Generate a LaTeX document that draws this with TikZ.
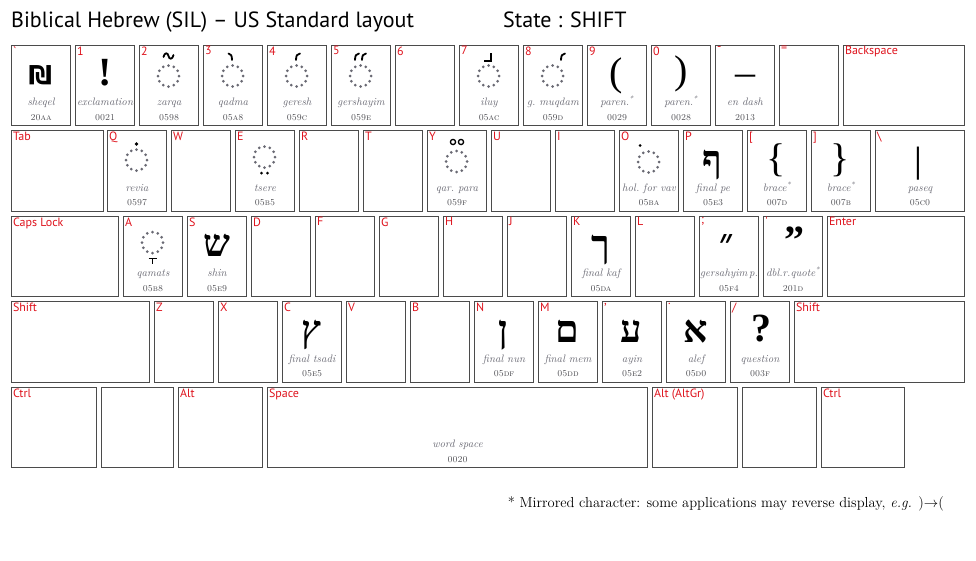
\documentclass[tikz,border=0pt]{standalone}
\usepackage{fontspec}
\usepackage{xcolor}
\usepackage{tikz}
\newfontfamily\keyfont{PT Sans}
\newfontfamily\hebfont[Script=Hebrew]{Liberation Serif}
\newfontfamily\glyphfont{Liberation Serif}
\newfontfamily\shqfont{DejaVu Sans}
\definecolor{keyred}{RGB}{222,18,28}
\definecolor{namegray}{RGB}{105,105,115}
\definecolor{codegray}{RGB}{70,70,75}
\definecolor{ringgray}{RGB}{105,105,115}
\definecolor{framegray}{RGB}{75,75,75}

\begin{document}
\begin{tikzpicture}[x=1pt, y=-1pt,
    key/.style={draw=framegray, line width=1.1pt, anchor=north west, minimum width=59pt, minimum height=80.5pt, inner sep=0pt},
    keylabel/.style={anchor=north west, inner sep=1.8pt, text=keyred, font=\keyfont\fontsize{12}{12}\selectfont},
    glyphname/.style={anchor=base, inner sep=0pt, text=namegray, font=\fontsize{10.8}{10.8}\selectfont\itshape\frenchspacing},
    glyphcode/.style={anchor=base, inner sep=0pt, text=codegray, font=\fontsize{9}{9}\selectfont\scshape},
    glyph/.style={inner sep=0pt, font=\glyphfont\fontsize{40}{40}\selectfont},
    boldglyph/.style={inner sep=0pt, font=\glyphfont\bfseries\fontsize{40}{40}\selectfont},
    hebglyph/.style={inner sep=0pt, anchor=north, font=\hebfont\bfseries\fontsize{38}{38}\selectfont},
    markstroke/.style={line width=1.8pt, line cap=round},
    dotring/.pic={\foreach \a in {0,30,...,330} \fill[ringgray] (\a:10.5pt) circle (1.5pt);}
]
    \useasboundingbox (0,0) rectangle (976,560);

    % Title
    \node[anchor=base west, inner sep=0pt, font=\keyfont\fontsize{22}{22}\selectfont] (title) at (11,27) {Biblical Hebrew (SIL) – US Standard layout};
    \node[anchor=base west, inner sep=0pt, font=\keyfont\fontsize{22}{22}\selectfont] (state) at (503,27) {State : SHIFT};

    % Number row
    \foreach \x/\l/\n in {11/`/grave, 75/1/1, 139/2/2, 203/3/3, 267/4/4, 331/5/5, 395/6/6, 459/7/7, 523/8/8, 587/9/9, 651/0/0, 715/-/minus, 779/=/equal} {
        \node[key] (k\n) at (\x,44.5) {};
        \node[keylabel] (l\n) at (k\n.north west) {\l};
    }
    \node[key, minimum width=121pt] (kbksp) at (843,44.5) {};
    \node[keylabel] (lbksp) at (kbksp.north west) {Backspace};

    % Top letter row
    \node[key, minimum width=92pt] (ktab) at (11,130) {};
    \node[keylabel] (ltab) at (ktab.north west) {Tab};
    \foreach \x/\l/\n in {107/Q/Q, 171/W/W, 235/E/E, 299/R/R, 363/T/T, 427/Y/Y, 491/U/U, 555/I/I, 619/O/O, 683/P/P, 747/{[}/lbrack, 811/{]}/rbrack} {
        \node[key] (k\n) at (\x,130) {};
        \node[keylabel] (l\n) at (k\n.north west) {\l};
    }
    \node[key, minimum width=89pt] (kbslash) at (875,130) {};
    \node[keylabel] (lbslash) at (kbslash.north west) {\textbackslash};

    % Home row
    \node[key, minimum width=107pt] (kcaps) at (11,215.5) {};
    \node[keylabel] (lcaps) at (kcaps.north west) {Caps Lock};
    \foreach \x/\l/\n in {123/A/A, 187/S/S, 251/D/D, 315/F/F, 379/G/G, 443/H/H, 507/J/J, 571/K/K, 635/L/L, 699/;/semi, 763/'/quote} {
        \node[key] (k\n) at (\x,215.5) {};
        \node[keylabel] (l\n) at (k\n.north west) {\l};
    }
    \node[key, minimum width=137pt] (kenter) at (827,215.5) {};
    \node[keylabel] (lenter) at (kenter.north west) {Enter};

    % Bottom letter row
    \node[key, minimum width=138pt] (klshift) at (11,301) {};
    \node[keylabel] (llshift) at (klshift.north west) {Shift};
    \foreach \x/\l/\n in {154/Z/Z, 218/X/X, 282/C/C, 346/V/V, 410/B/B, 474/N/N, 538/M/M, 602/{,}/comma, 666/./period, 730/{/}/slash} {
        \node[key] (k\n) at (\x,301) {};
        \node[keylabel] (l\n) at (k\n.north west) {\l};
    }
    \node[key, minimum width=170pt] (krshift) at (794,301) {};
    \node[keylabel] (lrshift) at (krshift.north west) {Shift};

    % Space row
    \node[key, minimum width=85pt] (klctrl) at (11,386.5) {};
    \node[keylabel] (llctrl) at (klctrl.north west) {Ctrl};
    \node[key, minimum width=72pt] (kblankl) at (101,386.5) {};
    \node[key, minimum width=84pt] (klalt) at (178,386.5) {};
    \node[keylabel] (llalt) at (klalt.north west) {Alt};
    \node[key, minimum width=380pt] (kspace) at (267,386.5) {};
    \node[keylabel] (lspace) at (kspace.north west) {Space};
    \node[key, minimum width=85pt] (kralt) at (652,386.5) {};
    \node[keylabel] (lralt) at (kralt.north west) {Alt (AltGr)};
    \node[key, minimum width=74pt] (kblankr) at (742,386.5) {};
    \node[key, minimum width=83pt] (krctrl) at (821,386.5) {};
    \node[keylabel] (lrctrl) at (krctrl.north west) {Ctrl};

    % Character names and code points
    \foreach \k/\nm/\cd in {grave/sheqel/20aa, 1/exclamation/0021, 2/zarqa/0598, 3/qadma/05a8, 4/geresh/059c, 5/gershayim/059e, 7/iluy/05ac, 8/g. muqdam/059d, 9/paren.\textsuperscript{*}/0029, 0/paren.\textsuperscript{*}/0028, minus/en dash/2013,
        Q/revia/0597, E/tsere/05b5, Y/qar. para/059f, O/hol. for vav/05ba, P/final pe/05e3, lbrack/brace\textsuperscript{*}/007d, rbrack/brace\textsuperscript{*}/007b, bslash/paseq/05c0,
        A/qamats/05b8, S/shin/05e9, K/final kaf/05da, semi/gersahyim\,p./05f4, quote/dbl.r.quote\textsuperscript{*}/201d,
        C/final tsadi/05e5, N/final nun/05df, M/final mem/05dd, comma/ayin/05e2, period/alef/05d0, slash/question/003f, space/word space/0020} {
        \node[glyphname] (n\k) at ([yshift=-61pt]k\k.north) {\nm};
        \node[glyphcode] (c\k) at ([yshift=-75.5pt]k\k.north) {\cd};
    }

    % Glyphs, number row
    \node[inner sep=0pt, font=\shqfont\bfseries\fontsize{26}{26}\selectfont] (gsheqel) at (40.5,75) {₪};
    \node[boldglyph] (gexcl) at (105,73) {!};
    \node[glyph] (glparen) at (616.5,75.5) {(};
    \node[glyph] (grparen) at (681.5,74) {)};
    \node[glyph, anchor=north] (gdash) at (745.5,75) {–};
    \pic at (168.5,76) {dotring};
    \pic at (232.5,76) {dotring};
    \pic at (296.5,76) {dotring};
    \pic at (360.5,76) {dotring};
    \pic at (488.5,76) {dotring};
    \pic at (552.5,76) {dotring};
    \draw[markstroke] (163.5,57) .. controls (164.5,52) and (168,52.5) .. (168.5,56) .. controls (169,59.5) and (172.5,60) .. (173.5,55);
    \draw[markstroke] (228.5,53.5) .. controls (231,53.5) and (232,56) .. (232,60);
    \draw[markstroke] (296,60) .. controls (296,56) and (297,53.5) .. (300,53.5);
    \draw[markstroke] (355,60) .. controls (355,56) and (356,53.5) .. (359,53.5);
    \draw[markstroke] (362,60) .. controls (362,56) and (363,53.5) .. (366,53.5);
    \draw[markstroke, line cap=butt] (491,53) -- (491,61) -- (484,61);
    \draw[markstroke] (561,60) .. controls (561,56) and (562,53.5) .. (565,53.5);

    % Glyphs, top letter row
    \pic at (136.5,160) {dotring};
    \fill (136.5,144) circle (1.8pt);
    \pic at (264.5,157) {dotring};
    \fill (261.5,173) circle (1.5pt) (267.5,173) circle (1.5pt);
    \pic at (456.5,161.5) {dotring};
    \draw[line width=1.3pt] (453,142) circle (2.6pt) (461,142) circle (2.6pt);
    \pic at (648.5,162) {dotring};
    \fill (640,145.5) circle (1.5pt);
    \node[hebglyph] (gfinalpe) at (712.5,150) {ף};
    \node[glyph] (glbrace) at (776.5,160) {\{};
    \node[glyph] (grbrace) at (840.5,160) {\}};
    \node[hebglyph, font=\hebfont\fontsize{28}{28}\selectfont] (gpaseq) at (918,147) {׀};

    % Glyphs, home row
    \pic at (152.5,242.5) {dotring};
    \draw[line width=1.5pt] (148.5,258.5) -- (156.5,258.5) (152.5,258.5) -- (152.5,264);
    \node[hebglyph] (gshin) at (216.5,233.5) {ש};
    \node[hebglyph] (gfinalkaf) at (600.5,235) {ך};
    \node[hebglyph] (ggershp) at (727,234) {״};
    \node[boldglyph, anchor=north] (gquote) at (794,227) {”};

    % Glyphs, bottom letter row
    \node[hebglyph] (gtsadi) at (311.5,320) {ץ};
    \node[hebglyph] (gnun) at (503.5,320) {ן};
    \node[hebglyph] (gmem) at (567.5,320) {ם};
    \node[hebglyph] (gayin) at (631.5,320) {ע};
    \node[hebglyph] (galef) at (695.5,320) {א};
    \node[boldglyph] (gquest) at (761,329) {?};

    % Footnote
    \node[anchor=base east, inner sep=0pt, font=\fontsize{14.5}{14.5}\selectfont] (note) at (944,507) {* Mirrored character: some applications may reverse display, \textit{e.g.} )$\rightarrow$(};
\end{tikzpicture}
\end{document}
